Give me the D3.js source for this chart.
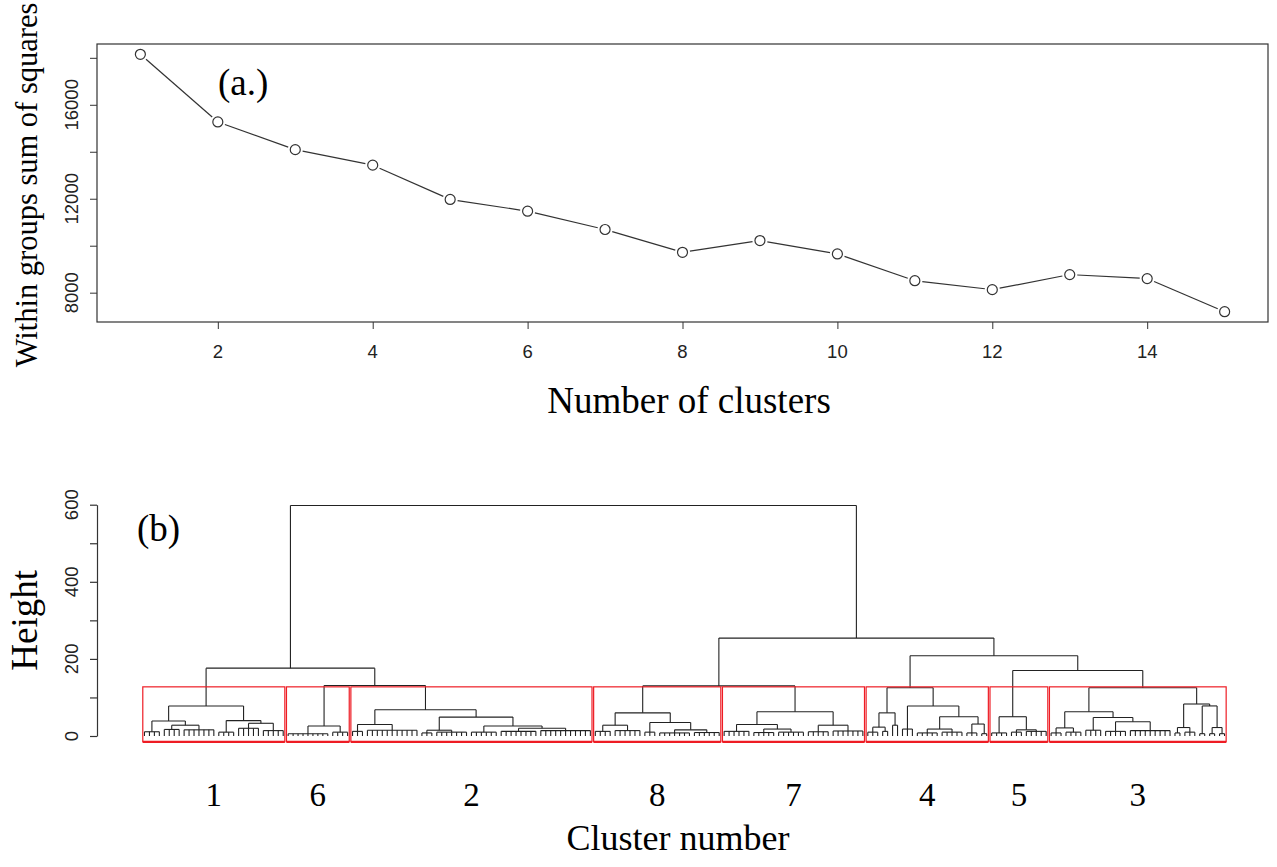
<!DOCTYPE html>
<html>
<head>
<meta charset="utf-8">
<script src="https://cdn.jsdelivr.net/npm/d3@7"></script>
<style>
  body { margin: 0; background: #fff; }
  .tick-lbl { font-family: "Liberation Sans", Arial, sans-serif; font-size: 18.5px; fill: #222; }
  .title { font-family: "Liberation Serif", "Times New Roman", serif; fill: #000; }
</style>
</head>
<body>
<svg id="chart" width="1277" height="867"></svg>
<script>
// ---- data: elbow plot (a.) ----
const nClusters = [1, 2, 3, 4, 5, 6, 7, 8, 9, 10, 11, 12, 13, 14, 15];
const wss = [18150, 15270, 14090, 13430, 11970, 11470, 10690, 9720, 10220, 9650, 8510, 8130, 8770, 8600, 7190];
const xTicksA = [2, 4, 6, 8, 10, 12, 14];
const yTicksA = [8000, 10000, 12000, 14000, 16000, 18000];
const yLabelsA = [8000, 12000, 16000];

// ---- data: dendrogram (b) ----
// internal node = [height, left, right]; leaf bunch = [height, number of leaves]
const cl1 = [78, [39, [11, 4], [28, [17, 4], [16, 7]]], [40, [10, 4], [33, [20, 5], [14, 5]]]];
const cl6 = [26, [6, 9], [10, 4]];
const cl2 = [68, [30, [12, 3], [15, 11]], [49, [15, [8, 3], [10, 7]], [26, [10, 6], [20, [12, 8], [14, 11]]]]];
const cl8 = [60, [28, [12, 4], [14, 6]], [35, [10, 3], [16, [8, 7], [9, 6]]]];
const cl7 = [63, [30, [12, 6], [18, [9, 5], [10, 6]]], [28, [11, 5], [13, 7]]];
const cl4 = [125, [60, [23, [10, 3], [12, 2]], [28, 2]], [78, [18, 3], [50, [18, [8, 5], [10, 5]], [31, [8, 3], [6, 2]]]]];
const cl5 = [50, [8, 4], [16, [10, 3], [12, 5]]];
const cl3 = [125, [63, [21, [8, 3], [10, 4]], [48, [15, 4], [37, [12, 5], [14, 9]]]], [83, [22, [8, 2], [10, 3]], [78, [6, 2], [22, [6, 2], [6, 2]]]]];
const clusterTrees = [cl1, cl6, cl2, cl8, cl7, cl4, cl5, cl3];
const clusterLabels = ["1", "6", "2", "8", "7", "4", "5", "3"];
const tree = [598, [176, cl1, [131, cl6, cl2]], [254, [130, cl8, cl7], [208, cl4, [170, cl5, cl3]]]];
const yTicksB = [0, 100, 200, 300, 400, 500, 600];
const yLabelsB = [0, 200, 400, 600];

const svg = d3.select("#chart");
svg.append("rect").attr("width", 1277).attr("height", 867).attr("fill", "#fff");

// ================= panel (a.) =================
const [wMin, wMax] = d3.extent(wss);
const padY = (wMax - wMin) * 0.04;
const xA = d3.scaleLinear().domain([1 - 14 * 0.04, 15 + 14 * 0.04]).range([97, 1268]);
const yA = d3.scaleLinear().domain([wMin - padY, wMax + padY]).range([322, 44]);

const gA = svg.append("g");

// frame
gA.append("rect")
  .attr("x", xA.range()[0]).attr("y", yA.range()[1])
  .attr("width", xA.range()[1] - xA.range()[0])
  .attr("height", yA.range()[0] - yA.range()[1])
  .attr("fill", "none").attr("stroke", "#333").attr("stroke-width", 1.2);

// x axis
gA.append("g")
  .attr("transform", `translate(0,${yA.range()[0]})`)
  .call(d3.axisBottom(xA).tickValues(xTicksA).tickSize(7).tickSizeOuter(0).tickFormat(""))
  .call(g => g.select(".domain").remove())
  .call(g => g.selectAll("line").attr("stroke", "#333"));
gA.selectAll(".xlbl").data(xTicksA).enter().append("text")
  .attr("class", "tick-lbl")
  .attr("x", d => xA(d)).attr("y", 358)
  .attr("text-anchor", "middle")
  .text(d => d);

// y axis
gA.append("g")
  .attr("transform", `translate(${xA.range()[0]},0)`)
  .call(d3.axisLeft(yA).tickValues(yTicksA).tickSize(7).tickSizeOuter(0).tickFormat(""))
  .call(g => g.select(".domain").remove())
  .call(g => g.selectAll("line").attr("stroke", "#333"));
gA.selectAll(".ylbl").data(yLabelsA).enter().append("text")
  .attr("class", "tick-lbl")
  .attr("transform", d => `translate(78,${yA(d)}) rotate(-90)`)
  .attr("text-anchor", "middle")
  .text(d => d);

// line with gaps around points (type = "b")
const pts = nClusters.map((k, i) => [xA(k), yA(wss[i])]);
const gap = 7.5;
d3.pairs(pts).forEach(([p, q]) => {
  const dx = q[0] - p[0], dy = q[1] - p[1];
  const len = Math.hypot(dx, dy);
  const ux = dx / len, uy = dy / len;
  gA.append("line")
    .attr("x1", p[0] + ux * gap).attr("y1", p[1] + uy * gap)
    .attr("x2", q[0] - ux * gap).attr("y2", q[1] - uy * gap)
    .attr("stroke", "#333").attr("stroke-width", 1.2);
});
gA.selectAll("circle").data(pts).enter().append("circle")
  .attr("cx", d => d[0]).attr("cy", d => d[1]).attr("r", 5)
  .attr("fill", "none").attr("stroke", "#333").attr("stroke-width", 1.2);

gA.append("text").attr("class", "title")
  .attr("x", 218).attr("y", 95).attr("font-size", 37).text("(a.)");
gA.append("text").attr("class", "title")
  .attr("x", 689).attr("y", 413)
  .attr("text-anchor", "middle").attr("font-size", 37)
  .text("Number of clusters");
gA.append("text").attr("class", "title")
  .attr("transform", `translate(37,${(yA.range()[0] + yA.range()[1]) / 2 + 2}) rotate(-90)`)
  .attr("text-anchor", "middle").attr("font-size", 30.5)
  .text("Within groups sum of squares");

// ================= panel (b) =================
const isBunch = n => n.length === 2;
const countLeaves = n => isBunch(n) ? n[1] : countLeaves(n[1]) + countLeaves(n[2]);
const nLeaves = countLeaves(tree);

const xB = d3.scaleLinear().domain([0.5, nLeaves + 0.5]).range([142, 1227]);
const yB = d3.scaleLinear().domain([0, 600]).range([736, 504.7]);
const gB = svg.append("g");
const lineCol = "#222";

function seg(x1, y1, x2, y2) {
  gB.append("line")
    .attr("x1", x1).attr("y1", y1).attr("x2", x2).attr("y2", y2)
    .attr("stroke", lineCol).attr("stroke-width", 1.1);
}

let cursor = 1;
function drawNode(n) {
  if (isBunch(n)) {
    const first = cursor, last = cursor + n[1] - 1;
    cursor += n[1];
    const yh = yB(n[0]);
    seg(xB(first), yh, xB(last), yh);
    d3.range(first, last + 1).forEach(i => seg(xB(i), yh, xB(i), yB(0)));
    return { x: (xB(first) + xB(last)) / 2, h: n[0] };
  }
  const L = drawNode(n[1]);
  const R = drawNode(n[2]);
  const yh = yB(n[0]);
  seg(L.x, yh, R.x, yh);
  seg(L.x, yh, L.x, yB(L.h));
  seg(R.x, yh, R.x, yB(R.h));
  return { x: (L.x + R.x) / 2, h: n[0] };
}
drawNode(tree);

// cut height for 8 groups, as rect.hclust does
const mergeHeights = [];
(function collect(n) { if (!isBunch(n)) { mergeHeights.push(n[0]); collect(n[1]); collect(n[2]); } })(tree);
mergeHeights.sort((a, b) => b - a);
const k = clusterTrees.length;
const cutH = (mergeHeights[k - 2] + mergeHeights[k - 1]) / 2;

let start = 1;
clusterTrees.forEach((ct, i) => {
  const n = countLeaves(ct);
  const a = start, b = start + n - 1;
  start += n;
  const x0 = xB(a - 0.34), x1 = xB(b + 0.33);
  const yTop = yB(cutH), yBot = yB(-15);
  gB.append("rect")
    .attr("x", x0).attr("y", yTop)
    .attr("width", x1 - x0).attr("height", yBot - yTop)
    .attr("fill", "none").attr("stroke", "#ee1c24").attr("stroke-width", 1.2);
  gB.append("line")
    .attr("x1", x0).attr("x2", x1).attr("y1", yBot).attr("y2", yBot)
    .attr("stroke", "#ee1c24").attr("stroke-width", 2.2);
  gB.append("text").attr("class", "title")
    .attr("x", (x0 + x1) / 2).attr("y", 806)
    .attr("text-anchor", "middle").attr("font-size", 33)
    .text(clusterLabels[i]);
});

// y axis
gB.append("g")
  .attr("transform", "translate(97,0)")
  .call(d3.axisLeft(yB).tickValues(yTicksB).tickSize(7).tickSizeOuter(0).tickFormat(""))
  .call(g => g.selectAll("line, path").attr("stroke", "#333").attr("stroke-width", 1.2));
gB.selectAll(".ylblB").data(yLabelsB).enter().append("text")
  .attr("class", "tick-lbl")
  .attr("transform", d => `translate(78,${yB(d)}) rotate(-90)`)
  .attr("text-anchor", "middle")
  .text(d => d);

gB.append("text").attr("class", "title")
  .attr("x", 137).attr("y", 541).attr("font-size", 37).text("(b)");
gB.append("text").attr("class", "title")
  .attr("transform", `translate(37,${yB(300)}) rotate(-90)`)
  .attr("text-anchor", "middle").attr("font-size", 37)
  .text("Height");
gB.append("text").attr("class", "title")
  .attr("x", 678).attr("y", 850)
  .attr("text-anchor", "middle").attr("font-size", 36)
  .text("Cluster number");
</script>
</body>
</html>
